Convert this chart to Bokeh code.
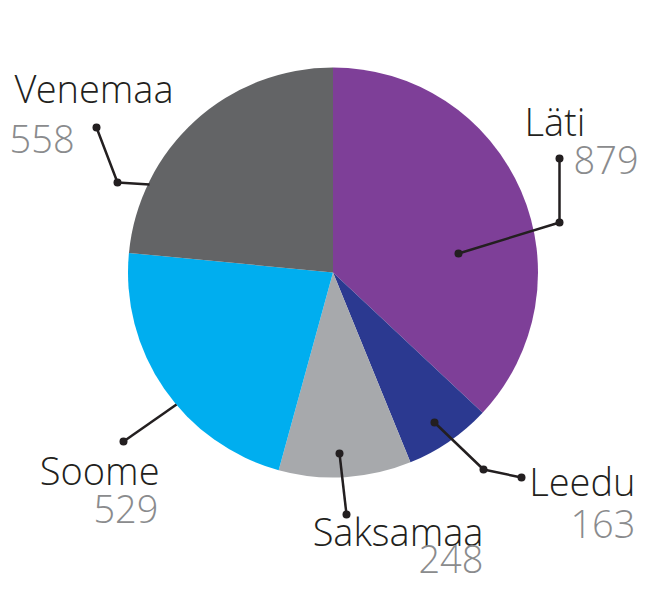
import math
from bokeh.plotting import figure
from bokeh.models import Range1d, ColumnDataSource
from bokeh.embed import file_html
from bokeh.resources import INLINE
from bokeh.core.properties import value

# ---- data ----
countries = ["Läti", "Leedu", "Saksamaa", "Soome", "Venemaa"]
counts = [879, 163, 248, 529, 558]
colors = ["#7E3F98", "#2B3990", "#A7A9AC", "#00AEEF", "#636466"]

# ---- layout (reference pixel coordinates, y downward; baselines) ----
CX, CY, R = 332.5, 272, 205
BASE_SHIFT = 14  # renderer places alphabetic baseline lower by about this
name_pos = [(524, 134), (635, 494), (483, 544), (159, 483), (14, 101)]
name_align = ["left", "right", "right", "right", "left"]
num_pos = [(573, 173), (635, 537), (483, 572), (158, 522), (9, 152)]
num_align = ["left", "right", "right", "right", "left"]
leaders = [
    [(458, 253), (559, 222), (559, 158)],
    [(434, 422), (483, 469), (521, 477)],
    [(339, 453), (346, 514)],
    [(176, 404), (123, 441)],
    [(149, 184), (117, 182), (96, 127)],
]
dots = [
    [True, True, True],
    [True, True, True],
    [True, True],
    [False, True],
    [False, True, True],
]

FONT = value("Open Sans Light")

p = figure(width=638, height=582, output_backend="svg", toolbar_location=None,
           x_range=Range1d(0, 638), y_range=Range1d(-582, 0),
           min_border=0, background_fill_color="white",
           border_fill_color="white")
p.axis.visible = False
p.grid.visible = False
p.outline_line_color = None

total = float(sum(counts))
starts, ends = [], []
cum = 0.0
for c in counts:
    starts.append(math.pi / 2 - 2 * math.pi * cum / total)
    cum += c
    ends.append(math.pi / 2 - 2 * math.pi * cum / total)

src = ColumnDataSource(dict(country=countries, count=counts, color=colors,
                            start=starts, end=ends,
                            x=[CX] * len(counts), y=[-CY] * len(counts)))
p.wedge(x="x", y="y", radius=R, start_angle="start", end_angle="end",
        direction="clock", fill_color="color", line_color=None, source=src)

# leader lines
for pts, ds in zip(leaders, dots):
    xs = [q[0] for q in pts]
    ys = [-q[1] for q in pts]
    p.line(xs, ys, line_color="#231F20", line_width=2.5)
    dx = [q[0] for q, d in zip(pts, ds) if d]
    dy = [-q[1] for q, d in zip(pts, ds) if d]
    p.scatter(dx, dy, size=8, fill_color="#231F20", line_color=None)

# labels
name_src = ColumnDataSource(dict(
    x=[q[0] for q in name_pos], y=[-(q[1] - BASE_SHIFT) for q in name_pos],
    text=countries, align=name_align))
num_src = ColumnDataSource(dict(
    x=[q[0] for q in num_pos], y=[-(q[1] - BASE_SHIFT) for q in num_pos],
    text=[str(c) for c in counts], align=num_align))
p.text(x="x", y="y", text="text", text_align="align", source=name_src,
       text_font=FONT, text_font_size="38px", text_color="#231F20",
       text_baseline="alphabetic")
p.text(x="x", y="y", text="text", text_align="align", source=num_src,
       text_font=FONT, text_font_size="38px", text_color="#8A8B8D",
       text_baseline="alphabetic")

open("out.html", "w").write(file_html(p, INLINE))
